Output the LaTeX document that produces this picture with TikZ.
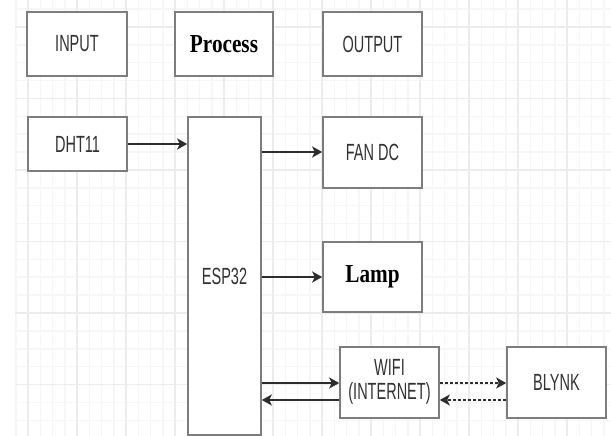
\documentclass[tikz,border=0pt]{standalone}
\usepackage{fontspec}
\usepackage{graphicx}
\usetikzlibrary{arrows.meta,calc}
\newfontfamily\arialf{Liberation Sans}
\newfontfamily\tnrf{Liberation Serif}
\definecolor{boxgray}{RGB}{125,125,125}
\definecolor{arrgray}{RGB}{45,45,45}
\definecolor{txtgray}{RGB}{50,50,50}
\definecolor{gridminor}{RGB}{246,246,246}
\definecolor{gridmajor}{RGB}{236,236,236}
\newcommand\sansT[1]{\scalebox{0.62}[1]{\arialf\fontsize{23.5}{25}\selectfont #1}}
\newcommand\serifT[1]{\scalebox{0.82}[1]{\tnrf\bfseries\fontsize{26}{28}\selectfont #1}}
\tikzset{
  blk/.style={draw=boxgray, line width=1.6bp, fill=white, rectangle, inner sep=0pt, text=txtgray},
  arr/.style={draw=arrgray, line width=1.7bp, -{Stealth[length=10bp,width=11bp,inset=2.5bp]}},
  darr/.style={arr, line width=1.5bp, dash pattern=on 3bp off 2bp},
  gmin/.style={draw=gridminor, line width=1.5bp},
  gmaj/.style={draw=gridmajor, line width=1.5bp},
}
\begin{document}
\begin{tikzpicture}[x=1bp,y=-1bp]
\useasboundingbox (0,0) rectangle (611,436);
% grid
\foreach \xx in {15.75,28,...,611} \draw[gmin] (\xx,0) -- (\xx,436);
\foreach \yy in {9.125,27,...,436} \draw[gmin] (15,\yy) -- (611,\yy);
\foreach \xx in {28,77,...,611} \draw[gmaj] (\xx,0) -- (\xx,436);
\foreach \yy in {27,98.5,...,436} \draw[gmaj] (15,\yy) -- (611,\yy);
% header boxes
\node[blk, minimum width=100bp, minimum height=64bp] (input) at (77,44) {\sansT{INPUT}};
\node[blk, minimum width=98bp, minimum height=64bp, text=black] (process) at (224,44) {\serifT{Process}};
\node[blk, minimum width=99bp, minimum height=64bp] (output) at (372.5,44) {\sansT{OUTPUT}};
% blocks
\node[blk, minimum width=99bp, minimum height=54bp] (dht) at (77.5,144) {\sansT{DHT11}};
\node[blk, minimum width=73bp, minimum height=318bp] (esp) at (224.5,276) {\sansT{ESP32}};
\node[blk, minimum width=99bp, minimum height=71bp] (fan) at (372.5,152.5) {\sansT{FAN DC}};
\node[blk, minimum width=99bp, minimum height=70bp, text=black] (lamp) at (372.5,277) {\serifT{Lamp}};
\node[blk, minimum width=99bp, minimum height=71bp] (wifi) at (389.5,382.5)
  {\scalebox{0.62}[1]{\arialf\fontsize{23.5}{25}\selectfont\begin{tabular}{@{}c@{}}WIFI\\(INTERNET)\end{tabular}}};
\node[blk, minimum width=99bp, minimum height=71bp] (blynk) at (556.5,382.5) {\sansT{BLYNK}};
% connectors
\draw[arr] (dht.east) -- (dht.east -| esp.west);
\draw[arr] ([yshift=0.5bp]fan.west -| esp.east) -- ([yshift=0.5bp]fan.west);
\draw[arr] (lamp.west -| esp.east) -- (lamp.west);
\draw[arr] ([yshift=-0.5bp]wifi.west -| esp.east) -- ([yshift=-0.5bp]wifi.west);
\draw[arr] ([yshift=-17.5bp]wifi.west) -- ([yshift=-17.5bp]wifi.west -| esp.east);
\draw[darr] ([yshift=-0.5bp]wifi.east) -- ([yshift=-0.5bp]blynk.west);
\draw[darr] ([yshift=-17.5bp]blynk.west) -- ([yshift=-17.5bp]wifi.east);
\end{tikzpicture}
\end{document}
